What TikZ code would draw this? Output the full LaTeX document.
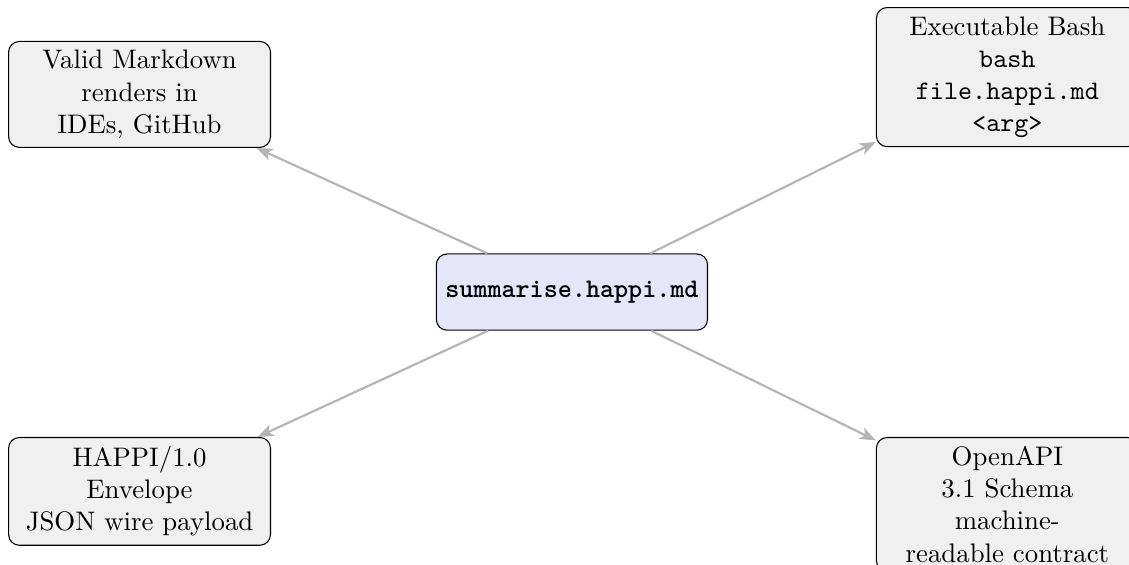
\documentclass[tikz,border=0pt]{standalone}
\usepackage{xcolor}
\usepackage{tikz}
\usetikzlibrary{arrows.meta}
\definecolor{hubfill}{RGB}{230, 230, 250}
\definecolor{facetfill}{RGB}{240, 240, 240}
\definecolor{linkgray}{RGB}{180, 180, 180}

\begin{document}
\begin{tikzpicture}[
    hub/.style={draw, rounded corners, fill=hubfill, minimum height=1cm,
                font=\ttfamily\bfseries},
    facet/.style={draw, rounded corners, fill=facetfill, text width=3.2cm,
                  align=center},
    link/.style={draw=linkgray, thick, -{Stealth[length=6pt, width=4.6pt, inset=1.6pt]}}
]
    \useasboundingbox (-7.50,-3.567) rectangle (7.305,3.83);

    % ==================== CENTRE FILE ====================
    \node[hub] (happi) at (0,0) {summarise.happi.md};

    % ==================== FOUR VIEWS ====================
    \node[facet, anchor=south] (markdown) at (-5.67,1.89)
        {Valid Markdown\\renders in\\IDEs, GitHub};
    \node[facet, anchor=south] (bash) at (5.71,1.90)
        {Executable Bash\\\texttt{bash}\\\texttt{file.happi.md}\\\texttt{<arg>}};
    \node[facet, anchor=north] (envelope) at (-5.67,-1.90)
        {HAPPI/1.0\\Envelope\\JSON wire payload};
    \node[facet, anchor=north] (openapi) at (5.71,-1.90)
        {OpenAPI\\3.1 Schema\\machine-\\readable contract};

    % ==================== LINKS ====================
    \draw[link] (happi) -- (markdown);
    \draw[link] (happi) -- (bash);
    \draw[link] (happi) -- (envelope);
    \draw[link] (happi) -- (openapi);
\end{tikzpicture}
\end{document}
